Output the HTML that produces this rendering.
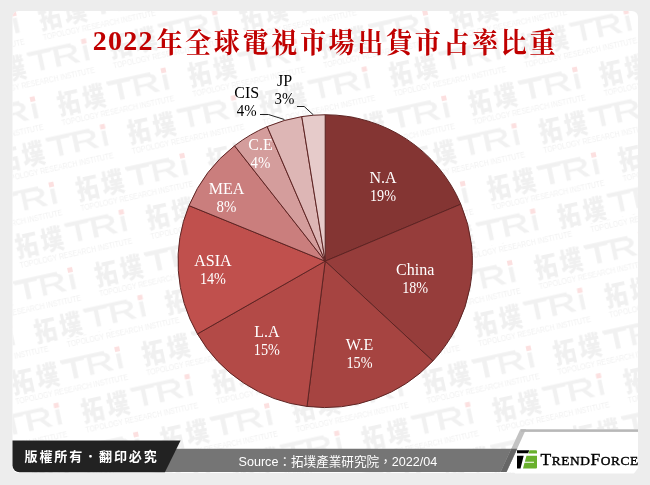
<!DOCTYPE html>
<html lang="zh-Hant"><head><meta charset="utf-8"><title>2022年全球電視市場出貨市占率比重</title>
<style>
html,body{margin:0;padding:0}
body{width:650px;height:485px;background:#ededed;overflow:hidden;position:relative;font-family:"Liberation Sans","Noto Sans CJK TC",sans-serif}
svg{position:absolute;left:0;top:0}
.wc{font:900 25px "Liberation Sans","Noto Sans CJK TC",sans-serif;fill:#f0f0f0}
.wt{font:28px "Liberation Sans",sans-serif;fill:#f1f1f1;stroke:#f1f1f1;stroke-width:.5}
.ws{font:8.2px "Liberation Sans",sans-serif;fill:#f1f1f1}
.lb text{font:16px "Liberation Serif",serif;text-anchor:middle}
#title{position:absolute;left:92.8px;top:21.2px;width:520px;text-align:left;color:#c00000;font-weight:bold;white-space:nowrap;line-height:36px;height:36px}
#title .n{font:bold 28px "Liberation Serif",serif;letter-spacing:1.2px;position:relative;top:-1.4px;margin-right:2.8px}
#title .c{font:bold 26px "Liberation Serif","Noto Serif CJK SC",serif;letter-spacing:2.7px;display:inline-block;transform:translateY(.9px) scaleY(1.1);transform-origin:50% 60%}
#copy{position:absolute;left:24.5px;top:447.5px;color:#fff;font:bold 13px "Liberation Sans","Noto Sans CJK TC",sans-serif;letter-spacing:1.9px;line-height:18px;white-space:nowrap}
#src{position:absolute;left:238.5px;top:452px;color:#fff;font:12.6px "Liberation Sans","Noto Sans CJK TC",sans-serif;line-height:20px;white-space:nowrap}
#tf{position:absolute;left:540.5px;top:447.4px;color:#000;font:17.5px "Liberation Serif",serif;line-height:24px;white-space:nowrap;letter-spacing:.55px;-webkit-text-stroke:.4px #000}
#tf small{font-size:13.4px}
</style></head><body>
<svg width="650" height="485" viewBox="0 0 650 485">
<defs>
<clipPath id="panel"><rect x="12.5" y="11" width="625.5" height="462" rx="6" ry="6"/></clipPath>
<clipPath id="cA"><polygon points="-200,0 900,0 900,155.5 -200,397.2"/></clipPath>
<clipPath id="cB"><polygon points="-200,600 900,600 900,155.5 -200,397.2"/></clipPath>
<pattern id="wmA" width="134.0" height="87.45" patternUnits="userSpaceOnUse" patternTransform="rotate(-12.39)"><g transform="translate(-123.5 -71.0)"><text class="wc" transform="translate(-110.8 21.6) scale(.9 1.08)" letter-spacing="3.6">拓墣</text><rect x="-58.5" y="-1.3" width="45" height="2.9" fill="#f1f1f1"/><text class="wt" transform="translate(-58 19) scale(1.4 1)" x="0 16.8 38.3">TRi</text><rect x="-2.5" y="-2.7" width="5" height="5" fill="#fce0e0"/><text class="ws" x="-110.5" y="32.6" textLength="115" lengthAdjust="spacingAndGlyphs">TOPOLOGY RESEARCH INSTITUTE</text></g><g transform="translate(-123.5 16.5)"><text class="wc" transform="translate(-110.8 21.6) scale(.9 1.08)" letter-spacing="3.6">拓墣</text><rect x="-58.5" y="-1.3" width="45" height="2.9" fill="#f1f1f1"/><text class="wt" transform="translate(-58 19) scale(1.4 1)" x="0 16.8 38.3">TRi</text><rect x="-2.5" y="-2.7" width="5" height="5" fill="#fce0e0"/><text class="ws" x="-110.5" y="32.6" textLength="115" lengthAdjust="spacingAndGlyphs">TOPOLOGY RESEARCH INSTITUTE</text></g><g transform="translate(-123.5 104.0)"><text class="wc" transform="translate(-110.8 21.6) scale(.9 1.08)" letter-spacing="3.6">拓墣</text><rect x="-58.5" y="-1.3" width="45" height="2.9" fill="#f1f1f1"/><text class="wt" transform="translate(-58 19) scale(1.4 1)" x="0 16.8 38.3">TRi</text><rect x="-2.5" y="-2.7" width="5" height="5" fill="#fce0e0"/><text class="ws" x="-110.5" y="32.6" textLength="115" lengthAdjust="spacingAndGlyphs">TOPOLOGY RESEARCH INSTITUTE</text></g><g transform="translate(10.5 -71.0)"><text class="wc" transform="translate(-110.8 21.6) scale(.9 1.08)" letter-spacing="3.6">拓墣</text><rect x="-58.5" y="-1.3" width="45" height="2.9" fill="#f1f1f1"/><text class="wt" transform="translate(-58 19) scale(1.4 1)" x="0 16.8 38.3">TRi</text><rect x="-2.5" y="-2.7" width="5" height="5" fill="#fce0e0"/><text class="ws" x="-110.5" y="32.6" textLength="115" lengthAdjust="spacingAndGlyphs">TOPOLOGY RESEARCH INSTITUTE</text></g><g transform="translate(10.5 16.5)"><text class="wc" transform="translate(-110.8 21.6) scale(.9 1.08)" letter-spacing="3.6">拓墣</text><rect x="-58.5" y="-1.3" width="45" height="2.9" fill="#f1f1f1"/><text class="wt" transform="translate(-58 19) scale(1.4 1)" x="0 16.8 38.3">TRi</text><rect x="-2.5" y="-2.7" width="5" height="5" fill="#fce0e0"/><text class="ws" x="-110.5" y="32.6" textLength="115" lengthAdjust="spacingAndGlyphs">TOPOLOGY RESEARCH INSTITUTE</text></g><g transform="translate(10.5 104.0)"><text class="wc" transform="translate(-110.8 21.6) scale(.9 1.08)" letter-spacing="3.6">拓墣</text><rect x="-58.5" y="-1.3" width="45" height="2.9" fill="#f1f1f1"/><text class="wt" transform="translate(-58 19) scale(1.4 1)" x="0 16.8 38.3">TRi</text><rect x="-2.5" y="-2.7" width="5" height="5" fill="#fce0e0"/><text class="ws" x="-110.5" y="32.6" textLength="115" lengthAdjust="spacingAndGlyphs">TOPOLOGY RESEARCH INSTITUTE</text></g><g transform="translate(144.5 -71.0)"><text class="wc" transform="translate(-110.8 21.6) scale(.9 1.08)" letter-spacing="3.6">拓墣</text><rect x="-58.5" y="-1.3" width="45" height="2.9" fill="#f1f1f1"/><text class="wt" transform="translate(-58 19) scale(1.4 1)" x="0 16.8 38.3">TRi</text><rect x="-2.5" y="-2.7" width="5" height="5" fill="#fce0e0"/><text class="ws" x="-110.5" y="32.6" textLength="115" lengthAdjust="spacingAndGlyphs">TOPOLOGY RESEARCH INSTITUTE</text></g><g transform="translate(144.5 16.5)"><text class="wc" transform="translate(-110.8 21.6) scale(.9 1.08)" letter-spacing="3.6">拓墣</text><rect x="-58.5" y="-1.3" width="45" height="2.9" fill="#f1f1f1"/><text class="wt" transform="translate(-58 19) scale(1.4 1)" x="0 16.8 38.3">TRi</text><rect x="-2.5" y="-2.7" width="5" height="5" fill="#fce0e0"/><text class="ws" x="-110.5" y="32.6" textLength="115" lengthAdjust="spacingAndGlyphs">TOPOLOGY RESEARCH INSTITUTE</text></g><g transform="translate(144.5 104.0)"><text class="wc" transform="translate(-110.8 21.6) scale(.9 1.08)" letter-spacing="3.6">拓墣</text><rect x="-58.5" y="-1.3" width="45" height="2.9" fill="#f1f1f1"/><text class="wt" transform="translate(-58 19) scale(1.4 1)" x="0 16.8 38.3">TRi</text><rect x="-2.5" y="-2.7" width="5" height="5" fill="#fce0e0"/><text class="ws" x="-110.5" y="32.6" textLength="115" lengthAdjust="spacingAndGlyphs">TOPOLOGY RESEARCH INSTITUTE</text></g><g transform="translate(-61.0 -29.0)"><text class="wc" transform="translate(-110.8 21.6) scale(.9 1.08)" letter-spacing="3.6">拓墣</text><rect x="-58.5" y="-1.3" width="45" height="2.9" fill="#f1f1f1"/><text class="wt" transform="translate(-58 19) scale(1.4 1)" x="0 16.8 38.3">TRi</text><rect x="-2.5" y="-2.7" width="5" height="5" fill="#fce0e0"/><text class="ws" x="-110.5" y="32.6" textLength="115" lengthAdjust="spacingAndGlyphs">TOPOLOGY RESEARCH INSTITUTE</text></g><g transform="translate(-61.0 58.5)"><text class="wc" transform="translate(-110.8 21.6) scale(.9 1.08)" letter-spacing="3.6">拓墣</text><rect x="-58.5" y="-1.3" width="45" height="2.9" fill="#f1f1f1"/><text class="wt" transform="translate(-58 19) scale(1.4 1)" x="0 16.8 38.3">TRi</text><rect x="-2.5" y="-2.7" width="5" height="5" fill="#fce0e0"/><text class="ws" x="-110.5" y="32.6" textLength="115" lengthAdjust="spacingAndGlyphs">TOPOLOGY RESEARCH INSTITUTE</text></g><g transform="translate(-61.0 145.9)"><text class="wc" transform="translate(-110.8 21.6) scale(.9 1.08)" letter-spacing="3.6">拓墣</text><rect x="-58.5" y="-1.3" width="45" height="2.9" fill="#f1f1f1"/><text class="wt" transform="translate(-58 19) scale(1.4 1)" x="0 16.8 38.3">TRi</text><rect x="-2.5" y="-2.7" width="5" height="5" fill="#fce0e0"/><text class="ws" x="-110.5" y="32.6" textLength="115" lengthAdjust="spacingAndGlyphs">TOPOLOGY RESEARCH INSTITUTE</text></g><g transform="translate(73.0 -29.0)"><text class="wc" transform="translate(-110.8 21.6) scale(.9 1.08)" letter-spacing="3.6">拓墣</text><rect x="-58.5" y="-1.3" width="45" height="2.9" fill="#f1f1f1"/><text class="wt" transform="translate(-58 19) scale(1.4 1)" x="0 16.8 38.3">TRi</text><rect x="-2.5" y="-2.7" width="5" height="5" fill="#fce0e0"/><text class="ws" x="-110.5" y="32.6" textLength="115" lengthAdjust="spacingAndGlyphs">TOPOLOGY RESEARCH INSTITUTE</text></g><g transform="translate(73.0 58.5)"><text class="wc" transform="translate(-110.8 21.6) scale(.9 1.08)" letter-spacing="3.6">拓墣</text><rect x="-58.5" y="-1.3" width="45" height="2.9" fill="#f1f1f1"/><text class="wt" transform="translate(-58 19) scale(1.4 1)" x="0 16.8 38.3">TRi</text><rect x="-2.5" y="-2.7" width="5" height="5" fill="#fce0e0"/><text class="ws" x="-110.5" y="32.6" textLength="115" lengthAdjust="spacingAndGlyphs">TOPOLOGY RESEARCH INSTITUTE</text></g><g transform="translate(73.0 145.9)"><text class="wc" transform="translate(-110.8 21.6) scale(.9 1.08)" letter-spacing="3.6">拓墣</text><rect x="-58.5" y="-1.3" width="45" height="2.9" fill="#f1f1f1"/><text class="wt" transform="translate(-58 19) scale(1.4 1)" x="0 16.8 38.3">TRi</text><rect x="-2.5" y="-2.7" width="5" height="5" fill="#fce0e0"/><text class="ws" x="-110.5" y="32.6" textLength="115" lengthAdjust="spacingAndGlyphs">TOPOLOGY RESEARCH INSTITUTE</text></g><g transform="translate(207.0 -29.0)"><text class="wc" transform="translate(-110.8 21.6) scale(.9 1.08)" letter-spacing="3.6">拓墣</text><rect x="-58.5" y="-1.3" width="45" height="2.9" fill="#f1f1f1"/><text class="wt" transform="translate(-58 19) scale(1.4 1)" x="0 16.8 38.3">TRi</text><rect x="-2.5" y="-2.7" width="5" height="5" fill="#fce0e0"/><text class="ws" x="-110.5" y="32.6" textLength="115" lengthAdjust="spacingAndGlyphs">TOPOLOGY RESEARCH INSTITUTE</text></g><g transform="translate(207.0 58.5)"><text class="wc" transform="translate(-110.8 21.6) scale(.9 1.08)" letter-spacing="3.6">拓墣</text><rect x="-58.5" y="-1.3" width="45" height="2.9" fill="#f1f1f1"/><text class="wt" transform="translate(-58 19) scale(1.4 1)" x="0 16.8 38.3">TRi</text><rect x="-2.5" y="-2.7" width="5" height="5" fill="#fce0e0"/><text class="ws" x="-110.5" y="32.6" textLength="115" lengthAdjust="spacingAndGlyphs">TOPOLOGY RESEARCH INSTITUTE</text></g><g transform="translate(207.0 145.9)"><text class="wc" transform="translate(-110.8 21.6) scale(.9 1.08)" letter-spacing="3.6">拓墣</text><rect x="-58.5" y="-1.3" width="45" height="2.9" fill="#f1f1f1"/><text class="wt" transform="translate(-58 19) scale(1.4 1)" x="0 16.8 38.3">TRi</text><rect x="-2.5" y="-2.7" width="5" height="5" fill="#fce0e0"/><text class="ws" x="-110.5" y="32.6" textLength="115" lengthAdjust="spacingAndGlyphs">TOPOLOGY RESEARCH INSTITUTE</text></g></pattern><pattern id="wmB" width="134.0" height="87.45" patternUnits="userSpaceOnUse" patternTransform="rotate(-12.39)"><g transform="translate(-94.5 -71.0)"><text class="wc" transform="translate(-110.8 21.6) scale(.9 1.08)" letter-spacing="3.6">拓墣</text><rect x="-58.5" y="-1.3" width="45" height="2.9" fill="#f1f1f1"/><text class="wt" transform="translate(-58 19) scale(1.4 1)" x="0 16.8 38.3">TRi</text><rect x="-2.5" y="-2.7" width="5" height="5" fill="#fce0e0"/><text class="ws" x="-110.5" y="32.6" textLength="115" lengthAdjust="spacingAndGlyphs">TOPOLOGY RESEARCH INSTITUTE</text></g><g transform="translate(-94.5 16.5)"><text class="wc" transform="translate(-110.8 21.6) scale(.9 1.08)" letter-spacing="3.6">拓墣</text><rect x="-58.5" y="-1.3" width="45" height="2.9" fill="#f1f1f1"/><text class="wt" transform="translate(-58 19) scale(1.4 1)" x="0 16.8 38.3">TRi</text><rect x="-2.5" y="-2.7" width="5" height="5" fill="#fce0e0"/><text class="ws" x="-110.5" y="32.6" textLength="115" lengthAdjust="spacingAndGlyphs">TOPOLOGY RESEARCH INSTITUTE</text></g><g transform="translate(-94.5 104.0)"><text class="wc" transform="translate(-110.8 21.6) scale(.9 1.08)" letter-spacing="3.6">拓墣</text><rect x="-58.5" y="-1.3" width="45" height="2.9" fill="#f1f1f1"/><text class="wt" transform="translate(-58 19) scale(1.4 1)" x="0 16.8 38.3">TRi</text><rect x="-2.5" y="-2.7" width="5" height="5" fill="#fce0e0"/><text class="ws" x="-110.5" y="32.6" textLength="115" lengthAdjust="spacingAndGlyphs">TOPOLOGY RESEARCH INSTITUTE</text></g><g transform="translate(39.5 -71.0)"><text class="wc" transform="translate(-110.8 21.6) scale(.9 1.08)" letter-spacing="3.6">拓墣</text><rect x="-58.5" y="-1.3" width="45" height="2.9" fill="#f1f1f1"/><text class="wt" transform="translate(-58 19) scale(1.4 1)" x="0 16.8 38.3">TRi</text><rect x="-2.5" y="-2.7" width="5" height="5" fill="#fce0e0"/><text class="ws" x="-110.5" y="32.6" textLength="115" lengthAdjust="spacingAndGlyphs">TOPOLOGY RESEARCH INSTITUTE</text></g><g transform="translate(39.5 16.5)"><text class="wc" transform="translate(-110.8 21.6) scale(.9 1.08)" letter-spacing="3.6">拓墣</text><rect x="-58.5" y="-1.3" width="45" height="2.9" fill="#f1f1f1"/><text class="wt" transform="translate(-58 19) scale(1.4 1)" x="0 16.8 38.3">TRi</text><rect x="-2.5" y="-2.7" width="5" height="5" fill="#fce0e0"/><text class="ws" x="-110.5" y="32.6" textLength="115" lengthAdjust="spacingAndGlyphs">TOPOLOGY RESEARCH INSTITUTE</text></g><g transform="translate(39.5 104.0)"><text class="wc" transform="translate(-110.8 21.6) scale(.9 1.08)" letter-spacing="3.6">拓墣</text><rect x="-58.5" y="-1.3" width="45" height="2.9" fill="#f1f1f1"/><text class="wt" transform="translate(-58 19) scale(1.4 1)" x="0 16.8 38.3">TRi</text><rect x="-2.5" y="-2.7" width="5" height="5" fill="#fce0e0"/><text class="ws" x="-110.5" y="32.6" textLength="115" lengthAdjust="spacingAndGlyphs">TOPOLOGY RESEARCH INSTITUTE</text></g><g transform="translate(173.5 -71.0)"><text class="wc" transform="translate(-110.8 21.6) scale(.9 1.08)" letter-spacing="3.6">拓墣</text><rect x="-58.5" y="-1.3" width="45" height="2.9" fill="#f1f1f1"/><text class="wt" transform="translate(-58 19) scale(1.4 1)" x="0 16.8 38.3">TRi</text><rect x="-2.5" y="-2.7" width="5" height="5" fill="#fce0e0"/><text class="ws" x="-110.5" y="32.6" textLength="115" lengthAdjust="spacingAndGlyphs">TOPOLOGY RESEARCH INSTITUTE</text></g><g transform="translate(173.5 16.5)"><text class="wc" transform="translate(-110.8 21.6) scale(.9 1.08)" letter-spacing="3.6">拓墣</text><rect x="-58.5" y="-1.3" width="45" height="2.9" fill="#f1f1f1"/><text class="wt" transform="translate(-58 19) scale(1.4 1)" x="0 16.8 38.3">TRi</text><rect x="-2.5" y="-2.7" width="5" height="5" fill="#fce0e0"/><text class="ws" x="-110.5" y="32.6" textLength="115" lengthAdjust="spacingAndGlyphs">TOPOLOGY RESEARCH INSTITUTE</text></g><g transform="translate(173.5 104.0)"><text class="wc" transform="translate(-110.8 21.6) scale(.9 1.08)" letter-spacing="3.6">拓墣</text><rect x="-58.5" y="-1.3" width="45" height="2.9" fill="#f1f1f1"/><text class="wt" transform="translate(-58 19) scale(1.4 1)" x="0 16.8 38.3">TRi</text><rect x="-2.5" y="-2.7" width="5" height="5" fill="#fce0e0"/><text class="ws" x="-110.5" y="32.6" textLength="115" lengthAdjust="spacingAndGlyphs">TOPOLOGY RESEARCH INSTITUTE</text></g><g transform="translate(-32.0 -29.0)"><text class="wc" transform="translate(-110.8 21.6) scale(.9 1.08)" letter-spacing="3.6">拓墣</text><rect x="-58.5" y="-1.3" width="45" height="2.9" fill="#f1f1f1"/><text class="wt" transform="translate(-58 19) scale(1.4 1)" x="0 16.8 38.3">TRi</text><rect x="-2.5" y="-2.7" width="5" height="5" fill="#fce0e0"/><text class="ws" x="-110.5" y="32.6" textLength="115" lengthAdjust="spacingAndGlyphs">TOPOLOGY RESEARCH INSTITUTE</text></g><g transform="translate(-32.0 58.5)"><text class="wc" transform="translate(-110.8 21.6) scale(.9 1.08)" letter-spacing="3.6">拓墣</text><rect x="-58.5" y="-1.3" width="45" height="2.9" fill="#f1f1f1"/><text class="wt" transform="translate(-58 19) scale(1.4 1)" x="0 16.8 38.3">TRi</text><rect x="-2.5" y="-2.7" width="5" height="5" fill="#fce0e0"/><text class="ws" x="-110.5" y="32.6" textLength="115" lengthAdjust="spacingAndGlyphs">TOPOLOGY RESEARCH INSTITUTE</text></g><g transform="translate(-32.0 145.9)"><text class="wc" transform="translate(-110.8 21.6) scale(.9 1.08)" letter-spacing="3.6">拓墣</text><rect x="-58.5" y="-1.3" width="45" height="2.9" fill="#f1f1f1"/><text class="wt" transform="translate(-58 19) scale(1.4 1)" x="0 16.8 38.3">TRi</text><rect x="-2.5" y="-2.7" width="5" height="5" fill="#fce0e0"/><text class="ws" x="-110.5" y="32.6" textLength="115" lengthAdjust="spacingAndGlyphs">TOPOLOGY RESEARCH INSTITUTE</text></g><g transform="translate(102.0 -29.0)"><text class="wc" transform="translate(-110.8 21.6) scale(.9 1.08)" letter-spacing="3.6">拓墣</text><rect x="-58.5" y="-1.3" width="45" height="2.9" fill="#f1f1f1"/><text class="wt" transform="translate(-58 19) scale(1.4 1)" x="0 16.8 38.3">TRi</text><rect x="-2.5" y="-2.7" width="5" height="5" fill="#fce0e0"/><text class="ws" x="-110.5" y="32.6" textLength="115" lengthAdjust="spacingAndGlyphs">TOPOLOGY RESEARCH INSTITUTE</text></g><g transform="translate(102.0 58.5)"><text class="wc" transform="translate(-110.8 21.6) scale(.9 1.08)" letter-spacing="3.6">拓墣</text><rect x="-58.5" y="-1.3" width="45" height="2.9" fill="#f1f1f1"/><text class="wt" transform="translate(-58 19) scale(1.4 1)" x="0 16.8 38.3">TRi</text><rect x="-2.5" y="-2.7" width="5" height="5" fill="#fce0e0"/><text class="ws" x="-110.5" y="32.6" textLength="115" lengthAdjust="spacingAndGlyphs">TOPOLOGY RESEARCH INSTITUTE</text></g><g transform="translate(102.0 145.9)"><text class="wc" transform="translate(-110.8 21.6) scale(.9 1.08)" letter-spacing="3.6">拓墣</text><rect x="-58.5" y="-1.3" width="45" height="2.9" fill="#f1f1f1"/><text class="wt" transform="translate(-58 19) scale(1.4 1)" x="0 16.8 38.3">TRi</text><rect x="-2.5" y="-2.7" width="5" height="5" fill="#fce0e0"/><text class="ws" x="-110.5" y="32.6" textLength="115" lengthAdjust="spacingAndGlyphs">TOPOLOGY RESEARCH INSTITUTE</text></g><g transform="translate(236.0 -29.0)"><text class="wc" transform="translate(-110.8 21.6) scale(.9 1.08)" letter-spacing="3.6">拓墣</text><rect x="-58.5" y="-1.3" width="45" height="2.9" fill="#f1f1f1"/><text class="wt" transform="translate(-58 19) scale(1.4 1)" x="0 16.8 38.3">TRi</text><rect x="-2.5" y="-2.7" width="5" height="5" fill="#fce0e0"/><text class="ws" x="-110.5" y="32.6" textLength="115" lengthAdjust="spacingAndGlyphs">TOPOLOGY RESEARCH INSTITUTE</text></g><g transform="translate(236.0 58.5)"><text class="wc" transform="translate(-110.8 21.6) scale(.9 1.08)" letter-spacing="3.6">拓墣</text><rect x="-58.5" y="-1.3" width="45" height="2.9" fill="#f1f1f1"/><text class="wt" transform="translate(-58 19) scale(1.4 1)" x="0 16.8 38.3">TRi</text><rect x="-2.5" y="-2.7" width="5" height="5" fill="#fce0e0"/><text class="ws" x="-110.5" y="32.6" textLength="115" lengthAdjust="spacingAndGlyphs">TOPOLOGY RESEARCH INSTITUTE</text></g><g transform="translate(236.0 145.9)"><text class="wc" transform="translate(-110.8 21.6) scale(.9 1.08)" letter-spacing="3.6">拓墣</text><rect x="-58.5" y="-1.3" width="45" height="2.9" fill="#f1f1f1"/><text class="wt" transform="translate(-58 19) scale(1.4 1)" x="0 16.8 38.3">TRi</text><rect x="-2.5" y="-2.7" width="5" height="5" fill="#fce0e0"/><text class="ws" x="-110.5" y="32.6" textLength="115" lengthAdjust="spacingAndGlyphs">TOPOLOGY RESEARCH INSTITUTE</text></g></pattern>
</defs>
<rect x="12.5" y="11" width="625.5" height="462" rx="6" ry="6" fill="#fff"/>
<g clip-path="url(#panel)">
<g clip-path="url(#cA)"><rect x="0" y="0" width="650" height="485" fill="url(#wmA)"/></g>
<g clip-path="url(#cB)"><rect x="0" y="0" width="650" height="485" fill="url(#wmB)"/></g>
</g>
<g stroke="#5e2423" stroke-width="1" stroke-linejoin="round">
<path d="M325.2 261.15L325.20 114.75A147.2 146.4 0 0 1 460.80 204.18Z" fill="#843533"/>
<path d="M325.2 261.15L460.80 204.18A147.2 146.4 0 0 1 432.86 360.99Z" fill="#963d3b"/>
<path d="M325.2 261.15L432.86 360.99A147.2 146.4 0 0 1 307.01 406.43Z" fill="#a64441"/>
<path d="M325.2 261.15L307.01 406.43A147.2 146.4 0 0 1 197.46 333.91Z" fill="#b34a47"/>
<path d="M325.2 261.15L197.46 333.91A147.2 146.4 0 0 1 189.01 205.60Z" fill="#c0504d"/>
<path d="M325.2 261.15L189.01 205.60A147.2 146.4 0 0 1 234.57 145.79Z" fill="#ca7e7d"/>
<path d="M325.2 261.15L234.57 145.79A147.2 146.4 0 0 1 267.21 126.59Z" fill="#d49d9c"/>
<path d="M325.2 261.15L267.21 126.59A147.2 146.4 0 0 1 301.79 116.61Z" fill="#ddb6b5"/>
<path d="M325.2 261.15L301.79 116.61A147.2 146.4 0 0 1 325.20 114.75Z" fill="#e6cbca"/>
</g>
<g fill="none" stroke="#222" stroke-width="1">
<polyline points="260,114.5 268.4,114.5 284.4,119.5"/>
<polyline points="297,106.5 304.2,106.5 313.4,114.9"/>
</g>
<g class="lb">
<text x="383" y="183.2" fill="#fff">N.A</text><text x="383" y="200.8" fill="#fff" textLength="26" lengthAdjust="spacingAndGlyphs">19%</text>
<text x="415.2" y="274.9" fill="#fff">China</text><text x="415.2" y="292.8" fill="#fff" textLength="26" lengthAdjust="spacingAndGlyphs">18%</text>
<text x="359.5" y="349.6" fill="#fff">W.E</text><text x="359.5" y="367.6" fill="#fff" textLength="26" lengthAdjust="spacingAndGlyphs">15%</text>
<text x="266.8" y="336.9" fill="#fff">L.A</text><text x="266.8" y="354.9" fill="#fff" textLength="26" lengthAdjust="spacingAndGlyphs">15%</text>
<text x="212.9" y="266.0" fill="#fff">ASIA</text><text x="212.9" y="283.6" fill="#fff" textLength="26" lengthAdjust="spacingAndGlyphs">14%</text>
<text x="226.5" y="193.8" fill="#fff">MEA</text><text x="226.5" y="211.6" fill="#fff" textLength="19.8" lengthAdjust="spacingAndGlyphs">8%</text>
<text x="260.5" y="150.0" fill="#fff">C.E</text><text x="260.5" y="167.6" fill="#fff" textLength="19.8" lengthAdjust="spacingAndGlyphs">4%</text>
<text x="246.7" y="97.9" fill="#000">CIS</text><text x="246.7" y="115.6" fill="#000" textLength="19.8" lengthAdjust="spacingAndGlyphs">4%</text>
<text x="284.5" y="86.2" fill="#000">JP</text><text x="284.5" y="103.9" fill="#000" textLength="19.8" lengthAdjust="spacingAndGlyphs">3%</text>
</g>
<!-- footer -->
<polygon points="520.3,429.3 638,429.3 638,473.6 515,473.6 515,472 500.5,472" fill="#fff"/>
<polygon points="150,448.7 517.3,448.7 506.5,472 150,472" fill="#757575"/>
<polygon points="500.5,472 506.5,472 526,429.3 520.3,429.3" fill="#c2c2c2"/><polygon points="500.5,472 506.5,472 517.1,448.7 511.3,448.7" fill="#666"/>
<rect x="521" y="429.3" width="117" height="2.6" fill="#b8b8b8"/>
<path d="M12.5 440.5H180.6L164.9 472.3H19.5A7 7 0 0 1 12.5 465.3Z" fill="#222"/>
<polygon points="638.5,467.6 638.5,474.5 633.7,474.5 633.7,473.8" fill="#ededed"/>
<!-- TF icon -->
<path d="M517 450.3H529.3L528 453.3H517Z" fill="#000"/>
<path d="M517 455.7H523.7L520.5 468.5H517Z" fill="#000"/>
<path d="M529.6 450.3H536A1 1 0 0 1 537 451.3V453.4H528.3Z" fill="#69b02c"/>
<path d="M526.5 455.7H537V467.5A1 1 0 0 1 536 468.5H523L524.5 462.8H534V461.8H524.8Z" fill="#69b02c"/>
</svg>
<div id="title"><span class="n">2022</span><span class="c">年全球電視市場出貨市占率比重</span></div>
<div id="copy">版權所有．翻印必究</div>
<div id="src">Source：拓墣產業研究院，2022/04</div>
<div id="tf">T<small>REND</small>F<small>ORCE</small></div>
</body></html>
